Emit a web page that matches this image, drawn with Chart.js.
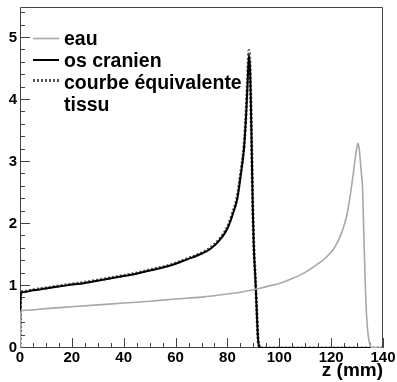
<!DOCTYPE html>
<html><head><meta charset="utf-8">
<script src="https://cdn.jsdelivr.net/npm/chart.js@4"></script>
<style>html,body{margin:0;padding:0;background:#fff;}#wrap{width:397px;height:382px;}</style>
</head><body><div id="wrap"><canvas id="c" width="397" height="382"></canvas></div>
<script>
const seriesNames = ['eau', 'os cranien', ['courbe équivalente', 'tissu']];
const xTicks = [0, 20, 40, 60, 80, 100, 120, 140];
const yTicks = [0, 1, 2, 3, 4, 5];
const xTitle = 'z (mm)';

const eauZ = [0, 0.3, 2, 10, 20, 30, 40, 50, 60, 70, 80, 85, 90, 95, 100, 105, 110, 115, 118, 121, 123.5, 125, 126.3, 127.5, 128.5, 129.4, 130, 130.4, 130.8, 131.3, 131.7, 132.1, 132.5, 132.8, 133.2, 133.7, 134.3, 135, 135.5, 140];
const eauDose = [0, 0.60, 0.61, 0.635, 0.665, 0.695, 0.725, 0.755, 0.79, 0.82, 0.87, 0.9, 0.94, 0.99, 1.04, 1.12, 1.22, 1.36, 1.46, 1.6, 1.8, 1.98, 2.19, 2.5, 2.8, 3.1, 3.25, 3.3, 3.22, 3.0, 2.8, 2.6, 2.0, 1.55, 1.0, 0.5, 0.2, 0.05, 0.01, 0];

const osZ = [0, 0.3, 1, 5, 10, 18, 25, 32, 40, 44, 50, 58, 64.5, 70, 73.5, 77, 79.9, 82, 83.8, 85, 86.4, 87.2, 87.8, 88.3, 88.8, 89.2, 89.5, 89.8, 90.2, 90.8, 91.3, 91.8, 92.3, 93, 140];
const osDose = [0, 0.88, 0.9, 0.93, 0.96, 1.01, 1.05, 1.1, 1.16, 1.19, 1.25, 1.33, 1.43, 1.52, 1.6, 1.74, 1.92, 2.15, 2.41, 2.75, 3.22, 3.75, 4.3, 4.72, 4.4, 3.6, 2.9, 2.2, 1.6, 1.1, 0.6, 0.15, 0.02, 0, 0];

const tissuZ = [0, 0.3, 1, 5, 10, 18, 25, 32, 40, 44, 50, 58, 64.5, 70, 73.5, 77, 79.9, 82, 83.8, 85, 86.4, 87.2, 87.8, 88.3, 88.8, 89.2, 89.5, 89.8, 90.2, 90.8, 91.3, 91.8, 92.3, 93, 140];
const tissuDose = [0, 0.89, 0.91, 0.94, 0.97, 1.02, 1.06, 1.11, 1.17, 1.2, 1.26, 1.34, 1.44, 1.53, 1.62, 1.76, 1.94, 2.18, 2.44, 2.79, 3.27, 3.8, 4.37, 4.8, 4.45, 3.65, 2.95, 2.25, 1.62, 1.12, 0.62, 0.16, 0.02, 0, 0];

const FONT = '"Liberation Sans", Arial, Helvetica, sans-serif';
const pts = (zs, vs) => zs.map((z, i) => ({x: z, y: vs[i]}));

const framePlugin = {
  id: 'frame',
  beforeDatasetsDraw(chart) {
    const {ctx, chartArea: a, scales: {x, y}} = chart;
    ctx.save();
    ctx.strokeStyle = '#444';
    ctx.lineWidth = 1;
    ctx.beginPath();
    ctx.rect(a.left + 0.5, a.top + 0.5, a.right - a.left - 1, a.bottom - a.top - 1);
    for (let i = 0; i * 0.2 <= y.max + 1e-9; i++) {
      const v = i * 0.2;
      const major = i % 5 === 0;
      const py = Math.round(y.getPixelForValue(v)) - 0.5;
      ctx.moveTo(a.left, py);
      ctx.lineTo(a.left + (major ? 10 : 5), py);
    }
    for (let v = x.min; v <= x.max + 1e-9; v += 5) {
      const major = v % 20 === 0;
      const px = Math.round(x.getPixelForValue(v)) + 0.5;
      ctx.moveTo(px, a.bottom);
      ctx.lineTo(px, a.bottom - (major ? 10 : 5));
    }
    ctx.stroke();
    ctx.restore();
  }
};

const legendPlugin = {
  id: 'rootLegend',
  afterDraw(chart) {
    const {ctx} = chart;
    const baselines = [45, 67, 89];
    const lineYs = [38.5, 60, 80.5];
    ctx.save();
    ctx.font = 'bold 19.5px ' + FONT;
    ctx.fillStyle = '#000';
    ctx.textBaseline = 'alphabetic';
    chart.data.datasets.forEach((ds, i) => {
      ctx.beginPath();
      ctx.strokeStyle = ds.borderColor;
      ctx.lineWidth = ds.borderWidth;
      ctx.setLineDash(ds.borderDash || []);
      ctx.moveTo(33, lineYs[i]);
      ctx.lineTo(59, lineYs[i]);
      ctx.stroke();
      ctx.setLineDash([]);
      const lines = Array.isArray(ds.label) ? ds.label : [ds.label];
      lines.forEach((t, k) => ctx.fillText(t, 64, baselines[i] + k * 21.5));
    });
    ctx.restore();
  }
};

new Chart(document.getElementById('c'), {
  type: 'line',
  data: {
    datasets: [
      {label: seriesNames[0], data: pts(eauZ, eauDose), borderColor: '#a8a8a8', borderWidth: 1.6, pointRadius: 0, cubicInterpolationMode: 'monotone'},
      {label: seriesNames[1], data: pts(osZ, osDose), borderColor: '#000000', borderWidth: 2, pointRadius: 0, cubicInterpolationMode: 'monotone'},
      {label: seriesNames[2], data: pts(tissuZ, tissuDose), borderColor: '#555555', borderWidth: 3, borderDash: [2, 2], pointRadius: 0, cubicInterpolationMode: 'monotone'}
    ]
  },
  options: {
    responsive: false,
    animation: false,
    events: [],
    layout: {padding: {top: 7, right: 14, left: 0, bottom: 0}},
    plugins: {legend: {display: false}, tooltip: {enabled: false}},
    scales: {
      x: {
        type: 'linear', min: 0, max: 140,
        afterBuildTicks: s => { s.ticks = xTicks.map(v => ({value: v})); },
        grid: {display: false, drawTicks: false},
        border: {display: false},
        ticks: {autoSkip: false, maxRotation: 0, padding: 1, color: '#000', font: {family: FONT, size: 15, weight: 'bold'}},
        title: {display: true, text: xTitle, align: 'end', color: '#000', font: {family: FONT, size: 19, weight: 'bold'}, padding: {top: 0, bottom: 0}},
        afterFit: s => { s.height = 34; s.paddingLeft = 0; s.paddingRight = 0; }
      },
      y: {
        type: 'linear', min: 0, max: 5.5,
        afterBuildTicks: s => { s.ticks = yTicks.map(v => ({value: v})); },
        grid: {display: false, drawTicks: false},
        border: {display: false},
        ticks: {autoSkip: false, padding: 3, color: '#000', font: {family: FONT, size: 15, weight: 'bold'}},
        afterFit: s => { s.width = 20; s.paddingTop = 0; s.paddingBottom = 0; }
      }
    }
  },
  plugins: [framePlugin, legendPlugin]
});
</script>
</body></html>
